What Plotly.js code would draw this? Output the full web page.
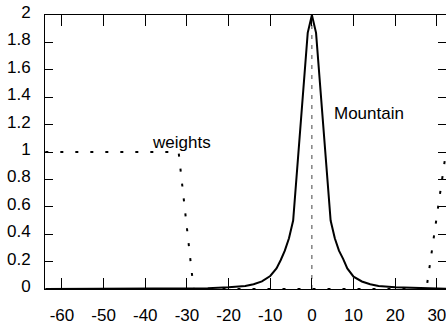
<!DOCTYPE html>
<html>
<head>
<meta charset="utf-8">
<script src="https://cdn.plot.ly/plotly-3.0.1.min.js"></script>
<style>html,body{margin:0;padding:0;background:#fff;}#chart{width:446px;height:327px;}</style>
</head>
<body>
<div id="chart"></div>
<script>
// Mountain curve
const mountainX = [-64, -40, -30, -25, -20, -16, -14, -12, -10, -8.5, -7.5, -6.5, -5.5, -4.5, -1, 0, 1, 4.5, 5.5, 6.5, 7.5, 8.5, 10, 12, 14, 16, 20, 25, 30, 32.2];
const mountainY = [0, 0.001, 0.003, 0.006, 0.012, 0.022, 0.035, 0.055, 0.095, 0.15, 0.21, 0.28, 0.37, 0.5, 1.87, 2, 1.87, 0.5, 0.37, 0.28, 0.22, 0.15, 0.09, 0.055, 0.035, 0.022, 0.012, 0.006, 0.003, 0.002];
// Weights
const weightsX = [-64, -32, -28.4, 27.5, 32.2];
const weightsY = [1, 1, 0, 0, 1];
// Centre marker
const centerX = [0, 0];
const centerY = [0, 2];
// Ticks
const xTicks = [-60, -50, -40, -30, -20, -10, 0, 10, 20, 30];
const xTickText = ['-60', '-50', '-40', '-30', '-20', '-10', '0', '10', '20', '30'];
const yTicks = [0, 0.2, 0.4, 0.6, 0.8, 1, 1.2, 1.4, 1.6, 1.8, 2];
const yTickText = ['0', '0.2', '0.4', '0.6', '0.8', '1', '1.2', '1.4', '1.6', '1.8', '2'];
// Labels
const labels = [{text: 'weights', x: -31.3, y: 1.07}, {text: 'Mountain', x: 13.7, y: 1.28}];

const font = {family: 'Liberation Sans, Arial, sans-serif', size: 17, color: '#000'};

const traces = [
  {x: centerX, y: centerY, mode: 'lines', line: {color: '#444', width: 1, dash: '4px,6px'}, hoverinfo: 'skip'},
  {x: weightsX, y: weightsY, mode: 'lines', line: {color: '#000', width: 2, dash: '3px,12px'}},
  {x: mountainX, y: mountainY, mode: 'lines', line: {color: '#000', width: 2}}
];

const layout = {
  width: 446, height: 327,
  margin: {l: 45, r: 0, t: 15, b: 38, pad: 0},
  paper_bgcolor: '#fff', plot_bgcolor: '#fff',
  showlegend: false,
  font: font,
  xaxis: {
    range: [-64.08, 32.2], tickvals: xTicks, ticktext: xTickText, ticks: 'inside', ticklen: 11, tickcolor: '#000', tickwidth: 1,
    showline: true, linecolor: '#000', linewidth: 1, mirror: 'allticks', showgrid: false, zeroline: false,
    ticklabelstandoff: 11, ticklabeloverflow: 'allow', tickfont: font
  },
  yaxis: {
    range: [0, 2], tickvals: yTicks, ticktext: yTickText, ticks: 'inside', ticklen: 8, tickcolor: '#000', tickwidth: 1,
    showline: true, linecolor: '#000', linewidth: 1, mirror: 'allticks', showgrid: false, zeroline: false,
    ticklabelstandoff: 10, ticklabelshift: -3, ticklabeloverflow: 'allow', tickfont: font
  },
  annotations: labels.map(l => ({text: l.text, x: l.x, y: l.y, xref: 'x', yref: 'y', showarrow: false, font: font}))
};

Plotly.newPlot('chart', traces, layout, {staticPlot: true, displayModeBar: false});
</script>
</body>
</html>
